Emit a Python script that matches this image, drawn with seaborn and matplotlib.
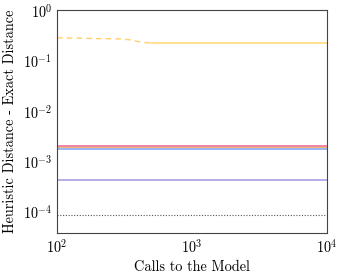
import numpy as np
import pandas as pd
import matplotlib
matplotlib.use("Agg")
import matplotlib.pyplot as plt
import seaborn as sns

# calls to the model (x) and the heuristic error of each method (y)
calls = [100, 150, 200, 250, 300, 350, 400, 450, 500, 1000, 2000, 5000, 10000]
top_dashed = [0.28, 0.275, 0.27, 0.268, 0.265, 0.255, 0.235, 0.225, 0.222]
top_solid = [0.222, 0.222, 0.222, 0.222, 0.222]
top_solid_calls = [500, 1000, 2000, 5000, 10000]
pink = [2.05e-3] * 13
gold = [1.9e-3] * 13
blue = [1.75e-3] * 13
purple = [4.2e-4] * 13
black = [8.6e-5] * 13

sns.set_style("white")
plt.rcParams["font.family"] = ["serif"]
plt.rcParams["font.serif"] = ["cmr10", "DejaVu Serif"]
plt.rcParams["mathtext.fontset"] = "cm"
plt.rcParams["axes.formatter.use_mathtext"] = True
plt.rcParams["text.color"] = "black"
plt.rcParams["axes.labelcolor"] = "black"
plt.rcParams["xtick.color"] = "black"
plt.rcParams["ytick.color"] = "black"

fig = plt.figure(figsize=(3.42, 2.75), dpi=100)
ax = fig.add_axes([0.167, 0.153, 0.789, 0.811])

sns.lineplot(x=calls[:9], y=top_dashed, ax=ax, color="#ffc850", lw=1.0,
             linestyle=(0, (4, 3)), alpha=0.85)
sns.lineplot(x=top_solid_calls, y=top_solid, ax=ax, color="#ffdf90", lw=1.5)
sns.lineplot(x=calls, y=pink, ax=ax, color="#f07aa0", lw=1.3)
sns.lineplot(x=calls, y=gold, ax=ax, color="#e8b878", lw=0.8)
sns.lineplot(x=calls, y=blue, ax=ax, color="#8aa8f0", lw=1.2)
sns.lineplot(x=calls, y=purple, ax=ax, color="#a8a0e8", lw=1.2)
sns.lineplot(x=calls, y=black, ax=ax, color="#555555", lw=0.8,
             linestyle=(0, (1, 1.5)))

ax.set_xscale("log")
ax.set_yscale("log")
ax.set_xlim(100, 10000)
ax.set_ylim(3.8e-5, 1.0)
ax.tick_params(which="both", direction="in", labelsize=10.3, top=False, right=False,
               colors="black")
ax.tick_params(which="major", length=4, width=0.6, color="#444444")
ax.tick_params(which="minor", length=2, width=0.5, color="#444444")
ax.yaxis.set_major_locator(matplotlib.ticker.LogLocator(base=10, numticks=10))
ax.yaxis.set_minor_locator(matplotlib.ticker.LogLocator(base=10, subs=np.arange(2, 10), numticks=20))
ax.xaxis.set_minor_locator(matplotlib.ticker.LogLocator(base=10, subs=np.arange(2, 10), numticks=20))
for s in ax.spines.values():
    s.set_color("#444444")
    s.set_linewidth(0.8)

ax.set_xlabel("Calls to the Model", fontsize=10.3)
ax.set_ylabel("Heuristic Distance - Exact Distance", fontsize=10.3)
ax.xaxis.labelpad = 3
ax.yaxis.labelpad = 4

fig.savefig("out.png", dpi=100)
